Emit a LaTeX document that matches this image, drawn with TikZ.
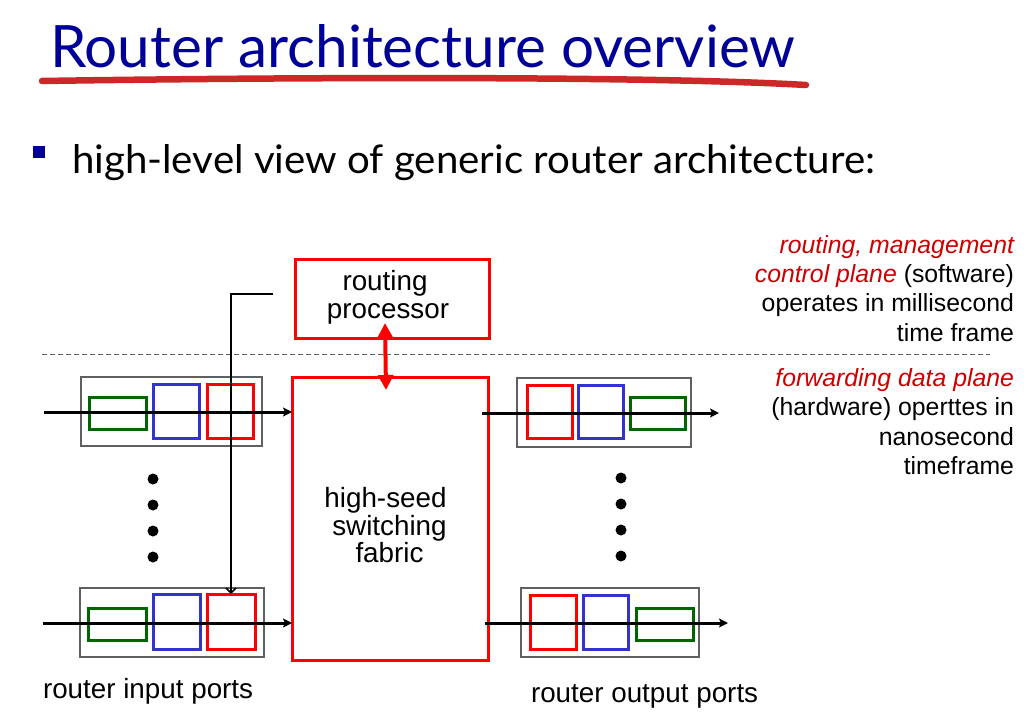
\documentclass[tikz,border=0pt]{standalone}
\usepackage{fontspec}
\setmainfont{Liberation Sans}
\newfontfamily\headfont{Lato}
\usetikzlibrary{arrows.meta}

\definecolor{titleblue}{RGB}{0,0,153}
\definecolor{brushred}{RGB}{204,40,40}
\definecolor{boxred}{RGB}{255,0,0}
\definecolor{txtred}{RGB}{204,0,0}
\definecolor{qblue}{RGB}{51,51,204}
\definecolor{qgreen}{RGB}{0,102,0}
\definecolor{portgray}{RGB}{96,96,96}

\begin{document}
\begin{tikzpicture}[x=1pt,y=-1pt,
  every node/.style={inner sep=0pt,outer sep=0pt},
  portbox/.style={draw=portgray,line width=2pt},
  qred/.style={draw=boxred,line width=3pt},
  qblu/.style={draw=qblue,line width=3pt},
  qgrn/.style={draw=qgreen,line width=3pt},
  unitbox/.style={draw=boxred,line width=3pt},
  flow/.style={line width=3pt,-{Stealth[length=9pt,width=9pt,inset=2pt]}},
  ctrl/.style={line width=1.5pt,-{Straight Barb[length=5pt,width=10pt]}},
  link/.style={draw=boxred,line width=4pt,{Triangle[length=15pt,width=15pt]}-{Triangle[length=15pt,width=15pt]}},
  dot/.style={circle,fill=black,minimum size=11pt},
  lbl/.style={font=\fontsize{27.8}{28}\selectfont},
  note/.style={anchor=base east,font=\fontsize{24.8}{29}\selectfont}
]
\useasboundingbox (0,0) rectangle (1031,725);
\fill[white] (0,0) rectangle (1031,725);

% heading, brush underline and bullet line
\node[anchor=base west,text=titleblue] (title) at (50,68)
  {\resizebox{745pt}{43pt}{\headfont Router architecture overview}};
\coordinate (brushL) at (42,81);
\coordinate (brushR) at (806,85);
\draw[brushred,line width=6.5pt,line cap=round]
  (brushL) .. controls (300,77) and (650,76) .. (brushR);
\node[fill=titleblue,minimum size=12pt] (bullet) at (39,152) {};
\node[anchor=base west] (sub) at (72,173)
  {\resizebox{803pt}{29pt}{\headfont high-level view of generic router architecture:}};

% control / data plane separator
\coordinate (sepL) at (42,354);
\coordinate (sepR) at (990,354);
\draw[portgray,line width=0.9pt,dash pattern=on 5pt off 3pt] (sepL) -- (sepR);

% routing processor and switching fabric
\node[unitbox,minimum width=194pt,minimum height=79pt] (rp) at (392,298.5) {};
\node[lbl,anchor=base] (rpA) at (385,290) {routing};
\node[lbl,anchor=base] (rpB) at (388,318) {processor};

\node[unitbox,minimum width=196pt,minimum height=283pt] (fab) at (390,518.5) {};
\node[lbl,anchor=base] (fabA) at (385.5,507) {high-seed};
\node[lbl,anchor=base] (fabB) at (389.5,535) {switching};
\node[lbl,anchor=base] (fabC) at (389.5,562) {fabric};

\draw[link] ([xshift=-7pt,yshift=15pt]rp.south) -- ([xshift=-4pt,yshift=-13pt]fab.north);

% input port, top
\node[portbox,minimum width=181pt,minimum height=69pt] (inA) at (171.5,411.5) {};
\node[qgrn,minimum width=57pt,minimum height=32pt] (inAg) at (117.5,413) {};
\node[qblu,minimum width=46pt,minimum height=54pt] (inAb) at (176,411) {};
\node[qred,minimum width=46pt,minimum height=54pt] (inAr) at (230,411) {};

% input port, bottom
\node[portbox,minimum width=184pt,minimum height=69pt] (inB) at (172,622.5) {};
\node[qgrn,minimum width=58pt,minimum height=32pt] (inBg) at (117,624) {};
\node[qblu,minimum width=47pt,minimum height=55pt] (inBb) at (176.5,621.5) {};
\node[qred,minimum width=48pt,minimum height=55pt] (inBr) at (231,621.5) {};

% output port, top
\node[portbox,minimum width=174pt,minimum height=69pt] (outA) at (604,412.5) {};
\node[qred,minimum width=45pt,minimum height=53pt] (outAr) at (549.5,411.5) {};
\node[qblu,minimum width=45pt,minimum height=53pt] (outAb) at (600.5,411.5) {};
\node[qgrn,minimum width=55pt,minimum height=32pt] (outAg) at (657.5,413) {};

% output port, bottom
\node[portbox,minimum width=178pt,minimum height=69pt] (outB) at (610,622.5) {};
\node[qred,minimum width=46pt,minimum height=54pt] (outBr) at (553,622) {};
\node[qblu,minimum width=45pt,minimum height=54pt] (outBb) at (605.5,622) {};
\node[qgrn,minimum width=57pt,minimum height=32pt] (outBg) at (664.5,624) {};

% ellipsis dots
\node[dot] (ld1) at (153,479) {};
\node[dot] (ld2) at (153,505) {};
\node[dot] (ld3) at (153,531) {};
\node[dot] (ld4) at (153,557) {};
\node[dot] (rd1) at (621,478) {};
\node[dot] (rd2) at (621,504) {};
\node[dot] (rd3) at (621,530) {};
\node[dot] (rd4) at (621,556) {};

% packet flows
\coordinate (srcA) at (44,412);
\coordinate (srcB) at (43,623);
\coordinate (dstA) at (719,413);
\coordinate (dstB) at (728,623);
\draw[flow] (srcA) -- (srcA -| fab.west);
\draw[flow] (srcB) -- (srcB -| fab.west);
\draw[flow] ([xshift=-6pt]fab.east |- dstA) -- (dstA);
\draw[flow] ([xshift=-3pt]fab.east |- dstB) -- (dstB);

% control path from the routing processor to an input port
\coordinate (ctlStart) at (273,294);
\draw[ctrl] (ctlStart) -| (inBr.north);

% port captions
\node[lbl,anchor=base west] (inCap) at (43,698) {router input ports};
\node[lbl,anchor=base west] (outCap) at (531,702) {router output ports};

% plane descriptions
\node[note] (cpA) at (1014,253) {\color{txtred}\itshape routing, management};
\node[note] (cpB) at (1014,282) {{\color{txtred}\itshape control plane} (software)};
\node[note] (cpC) at (1014,311) {operates in millisecond};
\node[note] (cpD) at (1014,341) {time frame};
\node[note] (dpA) at (1014,386) {\color{txtred}\itshape forwarding data plane};
\node[note] (dpB) at (1014,415) {(hardware) operttes in};
\node[note] (dpC) at (1014,445) {nanosecond};
\node[note] (dpD) at (1014,474) {timeframe};
\end{tikzpicture}
\end{document}
